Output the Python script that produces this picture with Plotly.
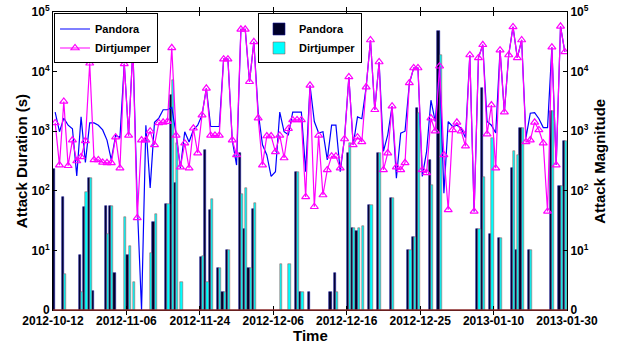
import numpy as np
import plotly.graph_objects as go

tick_labels = ["2012-10-12", "2012-11-06", "2012-11-24", "2012-12-06",
               "2012-12-16", "2012-12-25", "2013-01-10", "2013-01-30"]

pandora_line = [
    2090, 980, 1660, 1260, 1100, 178, 1740, 300, 1380, 1380,
    1260, 1050, 710, 330, 850, 780, 13500, 850, 25100, 63,
    1, 1260, 112, 1410, 1660, 2290, 2290, 2500, 900, 240,
    980, 660, 1050, 1260, 1860, 5250, 1200, 1200, 1200, 16200,
    16200, 710, 270, 51300, 51300, 6760, 31600, 2090, 590, 400,
    174, 209, 2090, 980, 870, 2090, 2090, 2090, 209, 5890,
    1450, 930, 980, 330, 1260, 1260, 209, 780, 8130, 590,
    1740, 1620, 5500, 33900, 2290, 14500, 460, 870, 2630, 162,
    930, 1000, 6310, 11500, 11500, 174, 460, 3310, 1450, 12300,
    91, 1450, 1200, 1260, 1120, 780, 19000, 45, 17000, 28200,
    1450, 1260, 930, 22900, 2090, 19000, 56200, 17000, 33900, 780,
    2000, 2040, 1620, 1150, 1150, 25700, 270, 57500, 21400]

dirtjumper_line = [
    1380, 270, 3160, 263, 710, 316, 370, 690, 13800, 330,
    330, 300, 295, 295, 794, 240, 13500, 850, 25100, 35,
    710, 710, 1000, 590, 1380, 1410, 1450, 25100, 850, 250,
    630, 240, 1120, 430, 1860, 5250, 850, 850, 850, 16200,
    16200, 710, 400, 51300, 51300, 6760, 31600, 1660, 270, 830,
    830, 450, 850, 355, 1100, 1550, 1550, 1550, 79, 5890,
    54, 850, 85, 224, 380, 380, 240, 740, 8130, 590,
    794, 660, 5500, 33900, 2290, 14500, 224, 430, 2630, 250,
    224, 295, 6460, 11500, 11500, 224, 200, 1660, 1000, 12300,
    400, 48, 1050, 1410, 1000, 560, 19000, 45, 17000, 28200,
    890, 2750, 240, 22900, 2090, 19000, 56200, 17000, 33900, 660,
    710, 1410, 1050, 630, 45, 25700, 270, 57500, 21400]

pandora_bars = [
    234, 0, 79, 0, 0, 0, 8.3, 54, 162, 2.1,
    0, 0, 55, 55, 4.2, 0, 0, 8.3, 0, 0,
    0, 0, 0, 30, 0, 0, 60, 3980, 135, 0,
    0, 0, 0, 0, 7.9, 479, 48, 0, 5, 2,
    10, 0, 0, 427, 23, 5, 50, 0, 0, 0,
    0, 0, 0, 0, 0, 0, 209, 2, 0, 2,
    0, 0, 0, 0, 2, 4.2, 0, 0, 427, 24,
    21, 0, 0, 58, 0, 427, 0, 0, 76, 0,
    0, 0, 10, 17, 2450, 0, 0, 331, 0, 47900,
    0, 0, 0, 0, 0, 0, 0, 0, 23, 5250,
    0, 19, 0, 16, 0, 0, 240, 10, 1120, 0,
    10, 0, 0, 0, 0, 2190, 0, 120, 676]

dirtjumper_bars = [
    0, 0, 4, 0, 0, 0, 2, 95, 166, 0,
    0, 0, 19, 55, 0, 0, 36, 12, 3, 0,
    0, 0, 9, 41, 0, 0, 60, 7240, 631, 3,
    0, 0, 0, 0, 8, 3, 72, 0, 5, 2,
    10, 0, 0, 89, 112, 5, 62, 0, 0, 0,
    0, 0, 6, 0, 6, 0, 209, 2, 0, 0,
    0, 0, 0, 0, 0, 2, 0, 0, 631, 24,
    24, 26, 0, 58, 0, 427, 0, 0, 76, 0,
    0, 0, 10, 17, 2000, 0, 0, 126, 0, 19000,
    0, 0, 0, 0, 0, 0, 0, 0, 23, 170,
    0, 759, 0, 16, 0, 0, 468, 398, 1120, 0,
    10, 0, 0, 0, 0, 2190, 0, 120, 676]

y_tickvals = [1, 10, 100, 1000, 10000, 100000]
y_ticktext = ["0", "10<sup>1</sup>", "10<sup>2</sup>", "10<sup>3</sup>",
              "10<sup>4</sup>", "10<sup>5</sup>"]

idx = list(range(len(pandora_line)))
n = len(idx)
xr = [-0.5, n - 0.5]
x_tickvals = list(np.linspace(xr[0], xr[1], len(tick_labels)))

def nz(a):
    return [v if v > 0 else None for v in a]

FONT = "Liberation Sans"

fig = go.Figure()
fig.add_bar(x=idx, y=nz(pandora_bars), name="Pandora", legend="legend2",
            marker=dict(color="#00002a", line=dict(color="#1a1a9a", width=0.6)))
fig.add_bar(x=idx, y=nz(dirtjumper_bars), name="Dirtjumper", legend="legend2",
            marker=dict(color="#00ffff", line=dict(color="#a04040", width=0.5)))
fig.add_scatter(x=idx, y=pandora_line, mode="lines", name="Pandora", yaxis="y2",
                legend="legend", line=dict(color="#0000ff", width=1.2))
fig.add_scatter(x=idx, y=dirtjumper_line, mode="lines+markers", name="Dirtjumper",
                yaxis="y2", legend="legend",
                line=dict(color="#ff00ff", width=1.2),
                marker=dict(symbol="triangle-up-open", size=7, color="#ff00ff",
                            line=dict(width=1.2, color="#ff00ff")))

axis_font = dict(family=FONT, size=12, color="black", weight="bold")
title_font = dict(family=FONT, size=15, color="black", weight="bold")
leg_font = dict(family=FONT, size=11, color="black", weight="bold")

fig.update_layout(
    width=618, height=344,
    margin=dict(l=53, r=51, t=12, b=34),
    paper_bgcolor="white", plot_bgcolor="white",
    barmode="group", bargap=0.0, bargroupgap=0,
    font=dict(family=FONT, size=12, color="black", weight="bold"),
    xaxis=dict(range=xr, tickvals=x_tickvals, ticktext=tick_labels,
               ticks="inside", ticklen=4, tickcolor="black", automargin=False,
               showline=True, linecolor="black", linewidth=1, mirror="allticks",
               showgrid=False, zeroline=False, tickfont=axis_font),
    yaxis=dict(type="log", range=[0, 5], tickvals=y_tickvals, ticktext=y_ticktext,
               ticks="inside", ticklen=4, tickcolor="black", automargin=False,
               showline=True, linecolor="black", linewidth=1, mirror=True,
               showgrid=False, zeroline=False, tickfont=axis_font),
    yaxis2=dict(type="log", range=[0, 5], tickvals=y_tickvals, ticktext=y_ticktext,
                overlaying="y", side="right", automargin=False,
                ticks="inside", ticklen=4, tickcolor="black",
                showline=True, linecolor="black", linewidth=1,
                showgrid=False, zeroline=False, tickfont=axis_font),
    legend=dict(x=0.002, y=0.995, xanchor="left", yanchor="top",
                bgcolor="white", bordercolor="black", borderwidth=1,
                font=leg_font, tracegroupgap=0, itemwidth=30),
    legend2=dict(x=0.5, y=0.995, xanchor="center", yanchor="top",
                 bgcolor="white", bordercolor="black", borderwidth=1,
                 font=leg_font, tracegroupgap=0, itemwidth=30),
    shapes=[dict(type="line", xref="paper", yref="paper", x0=0, x1=1, y0=0, y1=0,
                 line=dict(color="#8b2a2a", width=1.5), layer="above")],
    annotations=[
        dict(text="Attack Duration (s)", xref="paper", yref="paper", x=-0.062, y=0.5,
             textangle=-90, showarrow=False, font=title_font,
             xanchor="center", yanchor="middle"),
        dict(text="Attack Magnitude", xref="paper", yref="paper", x=1.062, y=0.5,
             textangle=-90, showarrow=False, font=title_font,
             xanchor="center", yanchor="middle"),
        dict(text="Time", xref="paper", yref="paper", x=0.5, y=-0.085,
             showarrow=False, font=title_font, xanchor="center", yanchor="middle"),
    ],
)

fig.write_html("out.html")
